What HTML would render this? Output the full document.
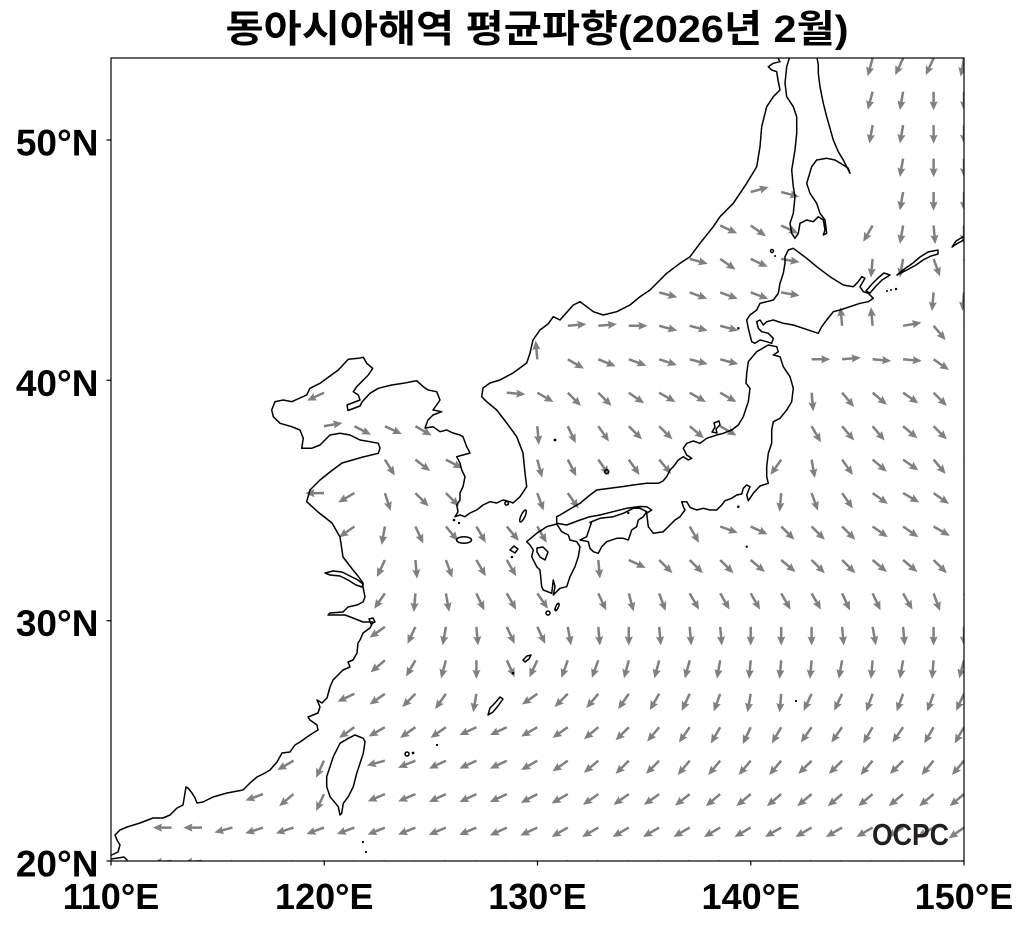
<!DOCTYPE html>
<html><head><meta charset="utf-8">
<style>
html,body{margin:0;padding:0;background:#fff;}
svg{display:block;}
.t{font-family:"Liberation Sans","Noto Sans CJK KR",sans-serif;font-weight:bold;fill:#000;}
</style></head>
<body>
<svg width="1025" height="928" viewBox="0 0 1025 928">
<defs>
<clipPath id="c"><rect x="111" y="58" width="853" height="803"/></clipPath>
<polygon id="a" points="0,-1.25 10.5,-1.25 9.5,-4.1 18.7,0 9.5,4.1 10.5,1.25 0,1.25" fill="#808080"/>
</defs>
<rect x="0" y="0" width="1025" height="928" fill="#fff"/>
<text class="t" x="537" y="42" text-anchor="middle" font-size="38" textLength="623" lengthAdjust="spacingAndGlyphs">동아시아해역 평균파향(2026년 2월)</text>
<g clip-path="url(#c)">
<g transform="translate(0,861)">
<use href="#a" transform="translate(171.6)rotate(175)"/><use href="#a" transform="translate(202)rotate(175)"/><use href="#a" transform="translate(232.5)rotate(155)"/><use href="#a" transform="translate(263)rotate(155)"/><use href="#a" transform="translate(293.5)rotate(155)"/><use href="#a" transform="translate(324)rotate(155)"/><use href="#a" transform="translate(354.4)rotate(155)"/><use href="#a" transform="translate(384.9)rotate(155)"/><use href="#a" transform="translate(415.4)rotate(155)"/><use href="#a" transform="translate(445.9)rotate(155)"/><use href="#a" transform="translate(476.4)rotate(155)"/><use href="#a" transform="translate(506.8)rotate(155)"/><use href="#a" transform="translate(537.3)rotate(155)"/><use href="#a" transform="translate(567.8)rotate(155)"/><use href="#a" transform="translate(598.3)rotate(155)"/><use href="#a" transform="translate(628.8)rotate(155)"/><use href="#a" transform="translate(659.2)rotate(155)"/><use href="#a" transform="translate(689.7)rotate(155)"/><use href="#a" transform="translate(720.2)rotate(155)"/><use href="#a" transform="translate(750.7)rotate(155)"/><use href="#a" transform="translate(781.2)rotate(155)"/><use href="#a" transform="translate(811.6)rotate(155)"/><use href="#a" transform="translate(842.1)rotate(155)"/><use href="#a" transform="translate(872.6)rotate(155)"/><use href="#a" transform="translate(903.1)rotate(155)"/><use href="#a" transform="translate(933.6)rotate(155)"/><use href="#a" transform="translate(964)rotate(155)"/>
</g>
<g transform="translate(0,827.6)">
<use href="#a" transform="translate(171.6)rotate(180)"/><use href="#a" transform="translate(202)rotate(180)"/><use href="#a" transform="translate(232.5)rotate(165)"/><use href="#a" transform="translate(263)rotate(162)"/><use href="#a" transform="translate(293.5)rotate(162)"/><use href="#a" transform="translate(324)rotate(160)"/><use href="#a" transform="translate(354.4)rotate(160)"/><use href="#a" transform="translate(384.9)rotate(158)"/><use href="#a" transform="translate(415.4)rotate(158)"/><use href="#a" transform="translate(445.9)rotate(157)"/><use href="#a" transform="translate(476.4)rotate(157)"/><use href="#a" transform="translate(506.8)rotate(155)"/><use href="#a" transform="translate(537.3)rotate(155)"/><use href="#a" transform="translate(567.8)rotate(150)"/><use href="#a" transform="translate(598.3)rotate(150)"/><use href="#a" transform="translate(628.8)rotate(150)"/><use href="#a" transform="translate(659.2)rotate(150)"/><use href="#a" transform="translate(689.7)rotate(150)"/><use href="#a" transform="translate(720.2)rotate(150)"/><use href="#a" transform="translate(750.7)rotate(150)"/><use href="#a" transform="translate(781.2)rotate(150)"/><use href="#a" transform="translate(811.6)rotate(150)"/><use href="#a" transform="translate(842.1)rotate(150)"/><use href="#a" transform="translate(872.6)rotate(150)"/><use href="#a" transform="translate(903.1)rotate(150)"/><use href="#a" transform="translate(933.6)rotate(150)"/><use href="#a" transform="translate(964)rotate(145)"/>
</g>
<g transform="translate(0,794.1)">
<use href="#a" transform="translate(263)rotate(160)"/><use href="#a" transform="translate(293.5)rotate(140)"/><use href="#a" transform="translate(324)rotate(115)"/><use href="#a" transform="translate(384.9)rotate(157)"/><use href="#a" transform="translate(415.4)rotate(157)"/><use href="#a" transform="translate(445.9)rotate(155)"/><use href="#a" transform="translate(476.4)rotate(155)"/><use href="#a" transform="translate(506.8)rotate(155)"/><use href="#a" transform="translate(537.3)rotate(152)"/><use href="#a" transform="translate(567.8)rotate(150)"/><use href="#a" transform="translate(598.3)rotate(145)"/><use href="#a" transform="translate(628.8)rotate(145)"/><use href="#a" transform="translate(659.2)rotate(145)"/><use href="#a" transform="translate(689.7)rotate(142)"/><use href="#a" transform="translate(720.2)rotate(140)"/><use href="#a" transform="translate(750.7)rotate(140)"/><use href="#a" transform="translate(781.2)rotate(140)"/><use href="#a" transform="translate(811.6)rotate(140)"/><use href="#a" transform="translate(842.1)rotate(140)"/><use href="#a" transform="translate(872.6)rotate(140)"/><use href="#a" transform="translate(903.1)rotate(140)"/><use href="#a" transform="translate(933.6)rotate(140)"/><use href="#a" transform="translate(964)rotate(140)"/>
</g>
<g transform="translate(0,760.7)">
<use href="#a" transform="translate(293.5)rotate(150)"/><use href="#a" transform="translate(324)rotate(115)"/><use href="#a" transform="translate(384.9)rotate(165)"/><use href="#a" transform="translate(415.4)rotate(158)"/><use href="#a" transform="translate(445.9)rotate(155)"/><use href="#a" transform="translate(476.4)rotate(155)"/><use href="#a" transform="translate(506.8)rotate(155)"/><use href="#a" transform="translate(537.3)rotate(150)"/><use href="#a" transform="translate(567.8)rotate(145)"/><use href="#a" transform="translate(598.3)rotate(140)"/><use href="#a" transform="translate(628.8)rotate(135)"/><use href="#a" transform="translate(659.2)rotate(135)"/><use href="#a" transform="translate(689.7)rotate(130)"/><use href="#a" transform="translate(720.2)rotate(130)"/><use href="#a" transform="translate(750.7)rotate(130)"/><use href="#a" transform="translate(781.2)rotate(130)"/><use href="#a" transform="translate(811.6)rotate(135)"/><use href="#a" transform="translate(842.1)rotate(135)"/><use href="#a" transform="translate(872.6)rotate(130)"/><use href="#a" transform="translate(903.1)rotate(135)"/><use href="#a" transform="translate(933.6)rotate(130)"/><use href="#a" transform="translate(964)rotate(130)"/>
</g>
<g transform="translate(0,727.2)">
<use href="#a" transform="translate(354.4)rotate(145)"/><use href="#a" transform="translate(384.9)rotate(150)"/><use href="#a" transform="translate(415.4)rotate(145)"/><use href="#a" transform="translate(445.9)rotate(145)"/><use href="#a" transform="translate(476.4)rotate(155)"/><use href="#a" transform="translate(506.8)rotate(155)"/><use href="#a" transform="translate(537.3)rotate(150)"/><use href="#a" transform="translate(567.8)rotate(145)"/><use href="#a" transform="translate(598.3)rotate(140)"/><use href="#a" transform="translate(628.8)rotate(135)"/><use href="#a" transform="translate(659.2)rotate(130)"/><use href="#a" transform="translate(689.7)rotate(125)"/><use href="#a" transform="translate(720.2)rotate(120)"/><use href="#a" transform="translate(750.7)rotate(115)"/><use href="#a" transform="translate(781.2)rotate(120)"/><use href="#a" transform="translate(811.6)rotate(125)"/><use href="#a" transform="translate(842.1)rotate(125)"/><use href="#a" transform="translate(872.6)rotate(120)"/><use href="#a" transform="translate(903.1)rotate(125)"/><use href="#a" transform="translate(933.6)rotate(120)"/><use href="#a" transform="translate(964)rotate(120)"/>
</g>
<g transform="translate(0,693.8)">
<use href="#a" transform="translate(354.4)rotate(155)"/><use href="#a" transform="translate(384.9)rotate(145)"/><use href="#a" transform="translate(415.4)rotate(135)"/><use href="#a" transform="translate(445.9)rotate(125)"/><use href="#a" transform="translate(476.4)rotate(100)"/><use href="#a" transform="translate(537.3)rotate(145)"/><use href="#a" transform="translate(567.8)rotate(135)"/><use href="#a" transform="translate(598.3)rotate(130)"/><use href="#a" transform="translate(628.8)rotate(125)"/><use href="#a" transform="translate(659.2)rotate(120)"/><use href="#a" transform="translate(689.7)rotate(115)"/><use href="#a" transform="translate(720.2)rotate(110)"/><use href="#a" transform="translate(750.7)rotate(100)"/><use href="#a" transform="translate(781.2)rotate(95)"/><use href="#a" transform="translate(811.6)rotate(115)"/><use href="#a" transform="translate(842.1)rotate(115)"/><use href="#a" transform="translate(872.6)rotate(110)"/><use href="#a" transform="translate(903.1)rotate(110)"/><use href="#a" transform="translate(933.6)rotate(110)"/><use href="#a" transform="translate(964)rotate(115)"/>
</g>
<g transform="translate(0,660.3)">
<use href="#a" transform="translate(384.9)rotate(140)"/><use href="#a" transform="translate(415.4)rotate(120)"/><use href="#a" transform="translate(445.9)rotate(105)"/><use href="#a" transform="translate(476.4)rotate(90)"/><use href="#a" transform="translate(506.8)rotate(65)"/><use href="#a" transform="translate(537.3)rotate(115)"/><use href="#a" transform="translate(567.8)rotate(110)"/><use href="#a" transform="translate(598.3)rotate(110)"/><use href="#a" transform="translate(628.8)rotate(105)"/><use href="#a" transform="translate(659.2)rotate(105)"/><use href="#a" transform="translate(689.7)rotate(105)"/><use href="#a" transform="translate(720.2)rotate(100)"/><use href="#a" transform="translate(750.7)rotate(95)"/><use href="#a" transform="translate(781.2)rotate(95)"/><use href="#a" transform="translate(811.6)rotate(95)"/><use href="#a" transform="translate(842.1)rotate(100)"/><use href="#a" transform="translate(872.6)rotate(95)"/><use href="#a" transform="translate(903.1)rotate(100)"/><use href="#a" transform="translate(933.6)rotate(95)"/><use href="#a" transform="translate(964)rotate(105)"/>
</g>
<g transform="translate(0,626.9)">
<use href="#a" transform="translate(384.9)rotate(145)"/><use href="#a" transform="translate(415.4)rotate(115)"/><use href="#a" transform="translate(445.9)rotate(100)"/><use href="#a" transform="translate(476.4)rotate(85)"/><use href="#a" transform="translate(506.8)rotate(65)"/><use href="#a" transform="translate(537.3)rotate(65)"/><use href="#a" transform="translate(567.8)rotate(80)"/><use href="#a" transform="translate(598.3)rotate(85)"/><use href="#a" transform="translate(628.8)rotate(90)"/><use href="#a" transform="translate(659.2)rotate(85)"/><use href="#a" transform="translate(689.7)rotate(85)"/><use href="#a" transform="translate(720.2)rotate(85)"/><use href="#a" transform="translate(750.7)rotate(90)"/><use href="#a" transform="translate(781.2)rotate(90)"/><use href="#a" transform="translate(811.6)rotate(90)"/><use href="#a" transform="translate(842.1)rotate(85)"/><use href="#a" transform="translate(872.6)rotate(80)"/><use href="#a" transform="translate(903.1)rotate(85)"/><use href="#a" transform="translate(933.6)rotate(90)"/><use href="#a" transform="translate(964)rotate(90)"/>
</g>
<g transform="translate(0,593.4)">
<use href="#a" transform="translate(384.9)rotate(125)"/><use href="#a" transform="translate(415.4)rotate(95)"/><use href="#a" transform="translate(445.9)rotate(80)"/><use href="#a" transform="translate(476.4)rotate(65)"/><use href="#a" transform="translate(506.8)rotate(60)"/><use href="#a" transform="translate(537.3)rotate(55)"/><use href="#a" transform="translate(598.3)rotate(65)"/><use href="#a" transform="translate(628.8)rotate(75)"/><use href="#a" transform="translate(659.2)rotate(70)"/><use href="#a" transform="translate(689.7)rotate(60)"/><use href="#a" transform="translate(720.2)rotate(60)"/><use href="#a" transform="translate(750.7)rotate(60)"/><use href="#a" transform="translate(781.2)rotate(60)"/><use href="#a" transform="translate(811.6)rotate(60)"/><use href="#a" transform="translate(842.1)rotate(65)"/><use href="#a" transform="translate(872.6)rotate(65)"/><use href="#a" transform="translate(903.1)rotate(60)"/><use href="#a" transform="translate(933.6)rotate(70)"/><use href="#a" transform="translate(964)rotate(70)"/>
</g>
<g transform="translate(0,560)">
<use href="#a" transform="translate(384.9)rotate(115)"/><use href="#a" transform="translate(415.4)rotate(85)"/><use href="#a" transform="translate(445.9)rotate(70)"/><use href="#a" transform="translate(476.4)rotate(60)"/><use href="#a" transform="translate(506.8)rotate(60)"/><use href="#a" transform="translate(598.3)rotate(85)"/><use href="#a" transform="translate(628.8)rotate(25)"/><use href="#a" transform="translate(659.2)rotate(45)"/><use href="#a" transform="translate(689.7)rotate(45)"/><use href="#a" transform="translate(720.2)rotate(45)"/><use href="#a" transform="translate(750.7)rotate(40)"/><use href="#a" transform="translate(781.2)rotate(40)"/><use href="#a" transform="translate(811.6)rotate(45)"/><use href="#a" transform="translate(842.1)rotate(45)"/><use href="#a" transform="translate(872.6)rotate(40)"/><use href="#a" transform="translate(903.1)rotate(40)"/><use href="#a" transform="translate(933.6)rotate(45)"/><use href="#a" transform="translate(964)rotate(45)"/>
</g>
<g transform="translate(0,526.5)">
<use href="#a" transform="translate(354.4)rotate(145)"/><use href="#a" transform="translate(384.9)rotate(100)"/><use href="#a" transform="translate(415.4)rotate(65)"/><use href="#a" transform="translate(445.9)rotate(50)"/><use href="#a" transform="translate(476.4)rotate(60)"/><use href="#a" transform="translate(506.8)rotate(50)"/><use href="#a" transform="translate(537.3)rotate(60)"/><use href="#a" transform="translate(689.7)rotate(60)"/><use href="#a" transform="translate(720.2)rotate(20)"/><use href="#a" transform="translate(750.7)rotate(25)"/><use href="#a" transform="translate(781.2)rotate(45)"/><use href="#a" transform="translate(811.6)rotate(45)"/><use href="#a" transform="translate(842.1)rotate(45)"/><use href="#a" transform="translate(872.6)rotate(35)"/><use href="#a" transform="translate(903.1)rotate(35)"/><use href="#a" transform="translate(933.6)rotate(30)"/><use href="#a" transform="translate(964)rotate(30)"/>
</g>
<g transform="translate(0,493.1)">
<use href="#a" transform="translate(324)rotate(180)"/><use href="#a" transform="translate(354.4)rotate(150)"/><use href="#a" transform="translate(384.9)rotate(72)"/><use href="#a" transform="translate(415.4)rotate(45)"/><use href="#a" transform="translate(445.9)rotate(45)"/><use href="#a" transform="translate(537.3)rotate(70)"/><use href="#a" transform="translate(567.8)rotate(55)"/><use href="#a" transform="translate(781.2)rotate(95)"/><use href="#a" transform="translate(811.6)rotate(70)"/><use href="#a" transform="translate(842.1)rotate(55)"/><use href="#a" transform="translate(872.6)rotate(35)"/><use href="#a" transform="translate(903.1)rotate(30)"/><use href="#a" transform="translate(933.6)rotate(35)"/><use href="#a" transform="translate(964)rotate(35)"/>
</g>
<g transform="translate(0,459.6)">
<use href="#a" transform="translate(384.9)rotate(58)"/><use href="#a" transform="translate(415.4)rotate(38)"/><use href="#a" transform="translate(445.9)rotate(28)"/><use href="#a" transform="translate(537.3)rotate(75)"/><use href="#a" transform="translate(567.8)rotate(63)"/><use href="#a" transform="translate(598.3)rotate(55)"/><use href="#a" transform="translate(628.8)rotate(55)"/><use href="#a" transform="translate(659.2)rotate(50)"/><use href="#a" transform="translate(781.2)rotate(125)"/><use href="#a" transform="translate(811.6)rotate(80)"/><use href="#a" transform="translate(842.1)rotate(55)"/><use href="#a" transform="translate(872.6)rotate(40)"/><use href="#a" transform="translate(903.1)rotate(35)"/><use href="#a" transform="translate(933.6)rotate(50)"/><use href="#a" transform="translate(964)rotate(50)"/>
</g>
<g transform="translate(0,426.2)">
<use href="#a" transform="translate(324)rotate(-10)"/><use href="#a" transform="translate(354.4)rotate(27)"/><use href="#a" transform="translate(384.9)rotate(25)"/><use href="#a" transform="translate(415.4)rotate(30)"/><use href="#a" transform="translate(537.3)rotate(85)"/><use href="#a" transform="translate(567.8)rotate(65)"/><use href="#a" transform="translate(598.3)rotate(55)"/><use href="#a" transform="translate(628.8)rotate(45)"/><use href="#a" transform="translate(659.2)rotate(45)"/><use href="#a" transform="translate(689.7)rotate(40)"/><use href="#a" transform="translate(720.2)rotate(30)"/><use href="#a" transform="translate(811.6)rotate(60)"/><use href="#a" transform="translate(842.1)rotate(50)"/><use href="#a" transform="translate(872.6)rotate(50)"/><use href="#a" transform="translate(903.1)rotate(40)"/><use href="#a" transform="translate(933.6)rotate(45)"/><use href="#a" transform="translate(964)rotate(45)"/>
</g>
<g transform="translate(0,392.7)">
<use href="#a" transform="translate(324)rotate(155)"/><use href="#a" transform="translate(506.8)rotate(5)"/><use href="#a" transform="translate(537.3)rotate(30)"/><use href="#a" transform="translate(567.8)rotate(45)"/><use href="#a" transform="translate(598.3)rotate(45)"/><use href="#a" transform="translate(628.8)rotate(35)"/><use href="#a" transform="translate(659.2)rotate(30)"/><use href="#a" transform="translate(689.7)rotate(30)"/><use href="#a" transform="translate(720.2)rotate(30)"/><use href="#a" transform="translate(811.6)rotate(85)"/><use href="#a" transform="translate(842.1)rotate(50)"/><use href="#a" transform="translate(872.6)rotate(40)"/><use href="#a" transform="translate(903.1)rotate(35)"/><use href="#a" transform="translate(933.6)rotate(45)"/><use href="#a" transform="translate(964)rotate(45)"/>
</g>
<g transform="translate(0,359.3)">
<use href="#a" transform="translate(537.3)rotate(265)"/><use href="#a" transform="translate(567.8)rotate(30)"/><use href="#a" transform="translate(598.3)rotate(22)"/><use href="#a" transform="translate(628.8)rotate(20)"/><use href="#a" transform="translate(659.2)rotate(18)"/><use href="#a" transform="translate(689.7)rotate(15)"/><use href="#a" transform="translate(720.2)rotate(15)"/><use href="#a" transform="translate(811.6)rotate(0)"/><use href="#a" transform="translate(842.1)rotate(-5)"/><use href="#a" transform="translate(872.6)rotate(5)"/><use href="#a" transform="translate(903.1)rotate(5)"/><use href="#a" transform="translate(933.6)rotate(35)"/><use href="#a" transform="translate(964)rotate(35)"/>
</g>
<g transform="translate(0,325.8)">
<use href="#a" transform="translate(567.8)rotate(-5)"/><use href="#a" transform="translate(598.3)rotate(-5)"/><use href="#a" transform="translate(628.8)rotate(0)"/><use href="#a" transform="translate(659.2)rotate(15)"/><use href="#a" transform="translate(689.7)rotate(15)"/><use href="#a" transform="translate(720.2)rotate(15)"/><use href="#a" transform="translate(842.1)rotate(265)"/><use href="#a" transform="translate(872.6)rotate(265)"/><use href="#a" transform="translate(903.1)rotate(-10)"/><use href="#a" transform="translate(933.6)rotate(50)"/><use href="#a" transform="translate(964)rotate(50)"/>
</g>
<g transform="translate(0,292.4)">
<use href="#a" transform="translate(659.2)rotate(15)"/><use href="#a" transform="translate(689.7)rotate(20)"/><use href="#a" transform="translate(720.2)rotate(20)"/><use href="#a" transform="translate(750.7)rotate(20)"/><use href="#a" transform="translate(781.2)rotate(10)"/><use href="#a" transform="translate(933.6)rotate(95)"/><use href="#a" transform="translate(964)rotate(95)"/>
</g>
<g transform="translate(0,258.9)">
<use href="#a" transform="translate(689.7)rotate(15)"/><use href="#a" transform="translate(720.2)rotate(35)"/><use href="#a" transform="translate(750.7)rotate(25)"/><use href="#a" transform="translate(781.2)rotate(10)"/><use href="#a" transform="translate(872.6)rotate(95)"/><use href="#a" transform="translate(903.1)rotate(100)"/><use href="#a" transform="translate(933.6)rotate(70)"/><use href="#a" transform="translate(964)rotate(70)"/>
</g>
<g transform="translate(0,225.5)">
<use href="#a" transform="translate(720.2)rotate(25)"/><use href="#a" transform="translate(750.7)rotate(35)"/><use href="#a" transform="translate(781.2)rotate(25)"/><use href="#a" transform="translate(872.6)rotate(120)"/><use href="#a" transform="translate(903.1)rotate(100)"/><use href="#a" transform="translate(933.6)rotate(85)"/><use href="#a" transform="translate(964)rotate(90)"/>
</g>
<g transform="translate(0,192)">
<use href="#a" transform="translate(750.7)rotate(-15)"/><use href="#a" transform="translate(781.2)rotate(15)"/><use href="#a" transform="translate(903.1)rotate(100)"/><use href="#a" transform="translate(933.6)rotate(90)"/><use href="#a" transform="translate(964)rotate(90)"/>
</g>
<g transform="translate(0,158.6)">
<use href="#a" transform="translate(903.1)rotate(100)"/><use href="#a" transform="translate(933.6)rotate(90)"/><use href="#a" transform="translate(964)rotate(90)"/>
</g>
<g transform="translate(0,125.1)">
<use href="#a" transform="translate(872.6)rotate(100)"/><use href="#a" transform="translate(903.1)rotate(100)"/><use href="#a" transform="translate(933.6)rotate(90)"/><use href="#a" transform="translate(964)rotate(90)"/>
</g>
<g transform="translate(0,91.7)">
<use href="#a" transform="translate(872.6)rotate(105)"/><use href="#a" transform="translate(903.1)rotate(100)"/><use href="#a" transform="translate(933.6)rotate(90)"/><use href="#a" transform="translate(964)rotate(90)"/>
</g>
<g transform="translate(0,58.2)">
<use href="#a" transform="translate(872.6)rotate(105)"/><use href="#a" transform="translate(903.1)rotate(115)"/><use href="#a" transform="translate(933.6)rotate(115)"/><use href="#a" transform="translate(964)rotate(100)"/>
</g>

<g fill="none" stroke="#000" stroke-width="1.5" stroke-linejoin="round" stroke-linecap="round">
<path d="M111.7,855 L118,852 120,845 117,840 115,835 120,830 127,827 140,823 153,818 163,818 170,815 177,808 183,805 185,793 186,787 188,788 192,793 195,798 197,803 203,802 213,797 227,793 243,790 250,783 257,777 265,773 270,770 277,762 282,753 290,752 295,745 300,742 307,737 313,733 318,730 317,725 310,720 308,717 313,715 318,713 320,707 317,700 322,703 327,698 330,687 333,680 340,673 343,670 350,667 348,662 353,660 357,653 358,643 360,640 363,633 370,628 373,622 367,622 363,622 353,618 345,615 328,615 330,613 343,612 348,607 357,605 363,602 365,597 363,587 363,583 358,576 353,570 343,557 340,537 332,523 318,512 306.7,501.7 310,490 320,480 330,472 342,463 363,457 378.3,453.3 380,448.3 378.3,443.3 370,441.7 360,440 350,435 340,433.3 330,435 320,445 311.7,448.3 301.7,448.3 303.3,438.3 300,430 291.7,426.7 280,423.3 273.3,416.7 271.7,410 275,401.7 283.3,400 291.7,401.7 306.7,395 310,388.3 320,383.3 338.3,370 348.3,359.3 358.3,358.3 363.3,357.3 366.7,363.3 372.7,368.3 368.3,375 361.7,381.7 356.7,386.7 353.3,391.7 358.3,395 360,400 347,405 348,410.5 360,406 362,402 370,393.3 378.3,388.3 391.7,385 403.3,383.3 415,381 416.7,380.7 423.3,386.7 428,390 436.7,391.7 440,400 438,403 433,410 441.7,411.7 433,415 428,420 425,428 433,426.7 440,431.7 446.7,430 453,433 460,435 463,436.7 466.7,446.7 470,453 463,455 456.7,456.7 460,463 461.7,470 465,476.7 463,486.7 460,493 460,500 456.7,505 458,511.7 455,516.7 460,515 465,516.7 470,513 476.7,510 483,505 490,501.7 496.7,503 503,500 510,501.7 513,503 520,496.7 526.7,486.7 525,473 523,453 516.7,436.7 506.7,423 496.7,410 486.7,401.7 481.7,396.7 483,388 490,383 500,380 513,373 526.7,363 530,353 533,340 540,330 548,324 553.3,316.7 560,320 573.3,305 580,301.7 586.7,306.7 593.3,311.7 603.3,315 616.7,311.7 630,305 640,296.7 650,290 660,280 666.7,273.3 680,263.3 690,256.7 700,243.3 713.3,226.7 720,216.7 733.3,203.3 746.7,183.3 756.7,166.7 760,146.7 761.7,126.7 766.7,106.7 773.3,96.7 780,90 778.3,81.7 776.7,71.7 771.7,70 768.3,66.7 773.3,63.3 780,61.7 776.7,56"/>
<path d="M325,573 L333,571 342,572 350,576 358,580 363,584 362,587 356,585 348,580 340,576 330,575 Z"/>
<path d="M340,815 L338.3,806.7 330,796.7 326.7,786.7 326.7,776.7 333.3,756.7 340,743.3 348.3,738.3 355,735 363.3,738.3 365,741.7 363.3,753.3 360,763.3 356.7,773.3 353.3,786.7 348.3,796.7 343.3,803.3 341.7,813.3 Z"/>
<path d="M556.7,524 L546.7,526.7 536.7,533.3 526.7,541.7 530,545 533.3,550 531.7,556.7 536.7,566.7 540,570 541.7,586.7 543.3,590 551.7,593.3 553.3,580 555,586.7 553.3,595 560,588.3 566.7,586.7 570,576.7 575,566.7 578.3,556.7 580,546.7 576.7,541.7 570,540 568.3,535 561.7,531.7 Z"/>
<path d="M537,548 L543,547 548,552 545,560 540,557 537,552 Z"/>
<path d="M580,540 L586.7,536.7 588.3,531.7 591.7,521.7 600,518.3 613.3,516.7 623.3,513.3 633.3,508.3 640,508.3 646.7,511.7 643.3,516.7 638.3,520 636.7,526.7 631.7,530 628.3,540 623.3,538.3 616.7,538.3 606.7,541.7 601.7,546.7 598.3,553.3 593.3,551.7 590,548.3 588.3,541.7 Z"/>
<path d="M756.7,351.7 L768.3,345 776.7,346.7 778.3,351.7 773.3,355 780,356.7 783.3,366.7 790,376.7 793.3,388.3 791.7,401.7 786.7,410 780,418.3 773.3,421.7 771.7,430 771.7,443.3 768.3,453.3 766.7,466.7 766.7,476.7 768.3,483.3 760,486 753.3,493.3 748.3,500.7 746.7,495 750,486.7 746.7,485 743.3,488.3 741.7,494 736.7,495 731.7,498.3 725,500.7 721.7,505 716.7,510 710,510 703.3,508.3 696.7,510 690,507.3 686.7,501.7 681.7,501.7 683.3,506.7 685,510 680,516.7 675,520 670,525 663.3,531.7 653.3,533.3 648.3,526.7 646.7,513.3 651.7,510 646.7,506.7 640,506.5 626.7,508.3 613,511.7 600,515 590,516.7 580,520 566.7,525 556.7,523.3 556.7,516.7 560,515 570,509 580,503.3 590,495 596.7,490 610,488.3 623.3,486.5 633.3,485 646.7,483.3 658.3,483.3 663,481 666.7,476.7 670,470 673.3,466.7 678.3,460 683.3,456.7 688.3,460 691.7,458.3 686.7,455 683.3,448.3 686.7,443.3 693.3,441 700,443.3 706.7,438.3 716.7,435 723.3,433.3 731.7,430 738.3,425 743.3,416.7 748.3,401.7 750,388.3 746,383.3 746.7,373.3 748.3,361.7 Z"/>
<path d="M785,256.7 L788.3,250 793.3,248.3 800,253.3 806.7,258.3 816.7,266.7 830,276.7 843.3,285 853.3,286.7 858.3,281.7 861.7,276.7 865,278.3 860,286.7 863.3,291.7 868.3,293.3 873.3,298.3 868.3,301.7 860,303.3 850,306.7 840,310 833.3,311.7 826.7,320 821.7,326.7 818.3,333.3 813.3,331.7 803.3,328.3 793.3,325 783.3,323.3 773.3,320 766.7,321.7 763.3,325 760,320 756.7,321.7 758.3,328.3 761.7,331.7 768.3,333.3 773.3,338.3 771.7,343.3 766.7,341.7 760,340 755,343.3 751.7,341.7 750,335 748.3,328.3 746.7,320 750,315 756.7,310 760,303.3 766.7,301.7 773.3,300 778.3,293.3 780,283.3 783.3,273.3 785,263.3 Z"/>
<path d="M790,56 L786.7,66.7 785,83.3 786.7,96.7 793.3,106.7 796.7,116.7 796.7,133.3 795,150 791.7,170 793.3,186.7 795,196.7 793.3,213.3 790,223.3 791.7,233.3 795,238.3 798.3,233.3 800,223.3 806.7,220 813.3,221.7 818.3,216.7 823.3,220 825,230 823.3,235 826.7,233.3 825,220 820,213.3 816.7,203.3 810,193.3 806.7,183.3 811.7,166.7 816.7,160 826.7,158.3 835,160 843.3,165 848.3,168.3 850,173.3 846.7,166.7 843.3,160 838.3,151.7 833.3,140 826.7,116.7 823.3,103.3 820,86.7 818.3,73.3 818.3,65 816.7,56"/>
<path d="M866,291 L872,284 878,278 884,273 890,275 882,280 876,286 870,293 Z"/>
<path d="M897,275 L903,270 913,263 920,257 928,252 938,250 938,254 931,256 923,260 916,265 907,270 Z"/>
<path d="M952,247 L956,241 966,235 966,239 958,243 Z"/>
<path d="M712,432 L715,427 714,423 719,421 720,425 716,429 717,433 Z"/>
<path d="M488,715 L490,708 495,703 500,697 503,699 498,706 493,712 Z"/>
<path d="M523,660 L527,656 531,655 529,659 525,662 Z"/>
<path d="M510,550 L514,546 518,549 515,553 Z"/>
<path d="M369,619 L373,618 375,622 371,624 Z"/>
<path d="M111,859 L118,858 124,857 127,860"/>
<ellipse cx="464" cy="540" rx="7.5" ry="3.3"/>
<ellipse cx="523" cy="516" rx="2" ry="6.5" transform="rotate(25 523 516)"/>
<ellipse cx="557" cy="607" rx="1.3" ry="4" transform="rotate(25 557 607)"/>
<circle cx="606.7" cy="471.7" r="2"/>
<circle cx="548" cy="613" r="2"/>
<circle cx="407" cy="754" r="2"/>
<circle cx="772" cy="251" r="1.5"/>
<circle cx="506.7" cy="503.3" r="1.8"/>
</g>
<g fill="#000">
<circle cx="555" cy="440" r="1.4"/>
<circle cx="512" cy="557" r="1.3"/>
<circle cx="454" cy="520" r="1.3"/>
<circle cx="459" cy="523" r="1.2"/>
<circle cx="513" cy="673" r="1.3"/>
<circle cx="413" cy="753" r="1.4"/>
<circle cx="437" cy="745" r="1.1"/>
<circle cx="363" cy="842" r="1.1"/>
<circle cx="366" cy="852" r="1.1"/>
<circle cx="738.3" cy="328.3" r="1.3"/>
<circle cx="775" cy="256" r="1"/>
<circle cx="738.3" cy="506.7" r="1.3"/>
<circle cx="746.7" cy="546.7" r="1.2"/>
<circle cx="796" cy="701" r="1.1"/>
<circle cx="590.5" cy="522.5" r="1.2"/>
<circle cx="628.3" cy="513" r="1.2"/>
<circle cx="887" cy="291" r="1"/>
<circle cx="891" cy="290" r="1"/>
<circle cx="896" cy="289" r="1.2"/>
</g>
</g>
<text x="872" y="845" font-family="'Liberation Sans',sans-serif" font-weight="bold" font-size="31" fill="#231f20" textLength="77" lengthAdjust="spacingAndGlyphs">OCPC</text>
<rect x="111" y="58" width="853" height="803" fill="none" stroke="#000" stroke-width="1.2"/>
<g stroke="#000" stroke-width="1.2">
<line x1="106.5" y1="140" x2="111" y2="140"/>
<line x1="106.5" y1="380.3" x2="111" y2="380.3"/>
<line x1="106.5" y1="620.7" x2="111" y2="620.7"/>
<line x1="106.5" y1="861" x2="111" y2="861"/>
<line x1="111" y1="861" x2="111" y2="865.5"/>
<line x1="324.3" y1="861" x2="324.3" y2="865.5"/>
<line x1="537.5" y1="861" x2="537.5" y2="865.5"/>
<line x1="750.8" y1="861" x2="750.8" y2="865.5"/>
<line x1="964" y1="861" x2="964" y2="865.5"/>
</g>
<g class="t" font-size="37">
<text x="98.5" y="155.5" text-anchor="end">50°N</text>
<text x="98.5" y="395.8" text-anchor="end">40°N</text>
<text x="98.5" y="636.2" text-anchor="end">30°N</text>
<text x="98.5" y="876.5" text-anchor="end">20°N</text>
</g>
<g class="t" font-size="36">
<text x="111" y="909" text-anchor="middle">110°E</text>
<text x="324.3" y="909" text-anchor="middle">120°E</text>
<text x="537.5" y="909" text-anchor="middle">130°E</text>
<text x="750.8" y="909" text-anchor="middle">140°E</text>
<text x="964" y="909" text-anchor="middle">150°E</text>
</g>
</svg>
</body></html>
